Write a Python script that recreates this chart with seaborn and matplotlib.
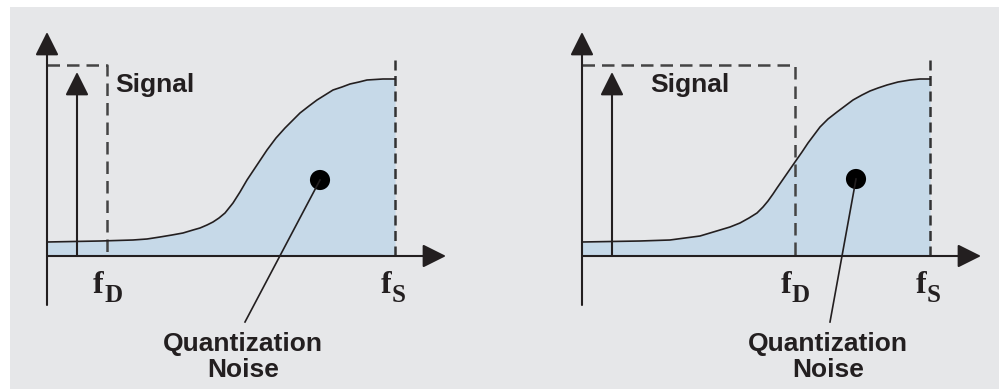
import matplotlib
matplotlib.use("Agg")
import seaborn as sns
import numpy as np
from matplotlib import pyplot as plt
from matplotlib.patches import Rectangle

# panel-local units: frequency to the right of the origin, level above the axis
left_freq = [0, 53, 86, 100, 113, 125, 136, 146, 153, 160, 166, 172, 178, 182, 186, 193, 200,
             210, 220, 229, 238, 246, 253, 262, 270, 278, 286, 295, 303, 312, 320, 336, 348]
left_noise = [14, 15, 16, 17, 19, 21, 23, 26, 28, 31, 34, 38, 43, 48, 53, 64, 76,
              91, 106, 118, 128, 136, 143, 150, 156, 161, 166, 169, 172, 174, 176, 177, 177]

right_freq = [0, 58, 88, 103, 118, 128, 138, 148, 158, 167, 175, 181, 186, 191, 195, 204, 213,
              220, 226, 232, 238, 246, 255, 263, 271, 280, 288, 296, 305, 316, 328, 338, 348]
right_noise = [14, 15, 16, 18, 20, 23, 26, 29, 33, 38, 43, 49, 55, 62, 68, 81, 94,
               104, 113, 121, 129, 137, 144, 150, 156, 161, 165, 168, 171, 174, 176, 177, 177]

fd_left = 60
fd_right = 213
fs = 348
signal_level = 191
tone_freq = 30
tone_level = 184
fs_top = 201
dot_left = (273, 76)
dot_right = (274, 77)
label_left = 196
label_right = 246

ink = '#231f20'
fill_color = '#c6d9e8'
bg_color = '#e6e7e9'

fig = plt.figure(figsize=(9.99, 3.89), dpi=100)
fig.add_artist(Rectangle((10 / 999, 0), 989 / 999, 382 / 389, transform=fig.transFigure,
                         facecolor=bg_color, edgecolor='none', zorder=0))

ax_l = fig.add_axes([0, 0, 500 / 999, 1])
ax_l.set_xlim(-47, 453)
ax_r = fig.add_axes([535 / 999, 0, 464 / 999, 1])
ax_r.set_xlim(-47, 417)


def draw_panel(ax, freq, noise, fd, dot, label_u):
    ax.set_ylim(-133, 256)
    ax.set_facecolor('none')
    ax.axis('off')

    # quantization noise
    ax.fill_between(freq, 0, noise, color=fill_color, lw=0, zorder=1)
    sns.lineplot(x=freq, y=noise, ax=ax, color=ink, lw=1.2, estimator=None, zorder=4)

    # signal band and fs marker
    ax.plot([0, fd, fd], [signal_level, signal_level, 0], color='#444444', lw=1.8,
            dashes=(5, 2.8), zorder=3)
    ax.plot([fs, fs], [0, fs_top], color='#333333', lw=1.8, dashes=(4, 2.2), zorder=3)

    # axes with arrowheads
    arrow = dict(arrowstyle='-|>,head_length=0.8,head_width=0.4', mutation_scale=18,
                 color=ink, lw=1.5, shrinkA=0, shrinkB=0)
    ax.annotate('', xy=(0, 224), xytext=(0, -49), arrowprops=arrow, zorder=5)
    ax.annotate('', xy=(399, 0), xytext=(0, 0), arrowprops=arrow, zorder=5)
    ax.annotate('', xy=(tone_freq, tone_level), xytext=(tone_freq, 0), arrowprops=arrow, zorder=5)

    ax.text(68, 164, 'Signal', fontfamily='Liberation Sans', fontweight='bold',
            fontsize=19, color=ink, ha='left', va='baseline')

    # frequency labels
    for pos, sub in [(fd, 'D'), (fs, 'S')]:
        ax.text(pos - 9, -37, 'f', fontfamily='Liberation Serif', fontweight='bold',
                fontsize=23, color=ink, ha='center', va='baseline')
        ax.text(pos - 3, -46, sub, fontfamily='Liberation Serif', fontweight='bold',
                fontsize=18, color=ink, ha='left', va='baseline')

    # callout
    sns.scatterplot(x=[dot[0]], y=[dot[1]], ax=ax, s=210, color='black', edgecolor='none', zorder=6)
    ax.plot([dot[0], label_u + 2], [dot[1], -66], color=ink, lw=1.2, zorder=6)
    ax.text(label_u, -95, 'Quantization', fontfamily='Liberation Sans', fontweight='bold',
            fontsize=19, color=ink, ha='center', va='baseline')
    ax.text(label_u, -121, 'Noise', fontfamily='Liberation Sans', fontweight='bold',
            fontsize=19, color=ink, ha='center', va='baseline')


draw_panel(ax_l, left_freq, left_noise, fd_left, dot_left, label_left)
draw_panel(ax_r, right_freq, right_noise, fd_right, dot_right, label_right)

fig.savefig('out.png', dpi=100, facecolor='white')
